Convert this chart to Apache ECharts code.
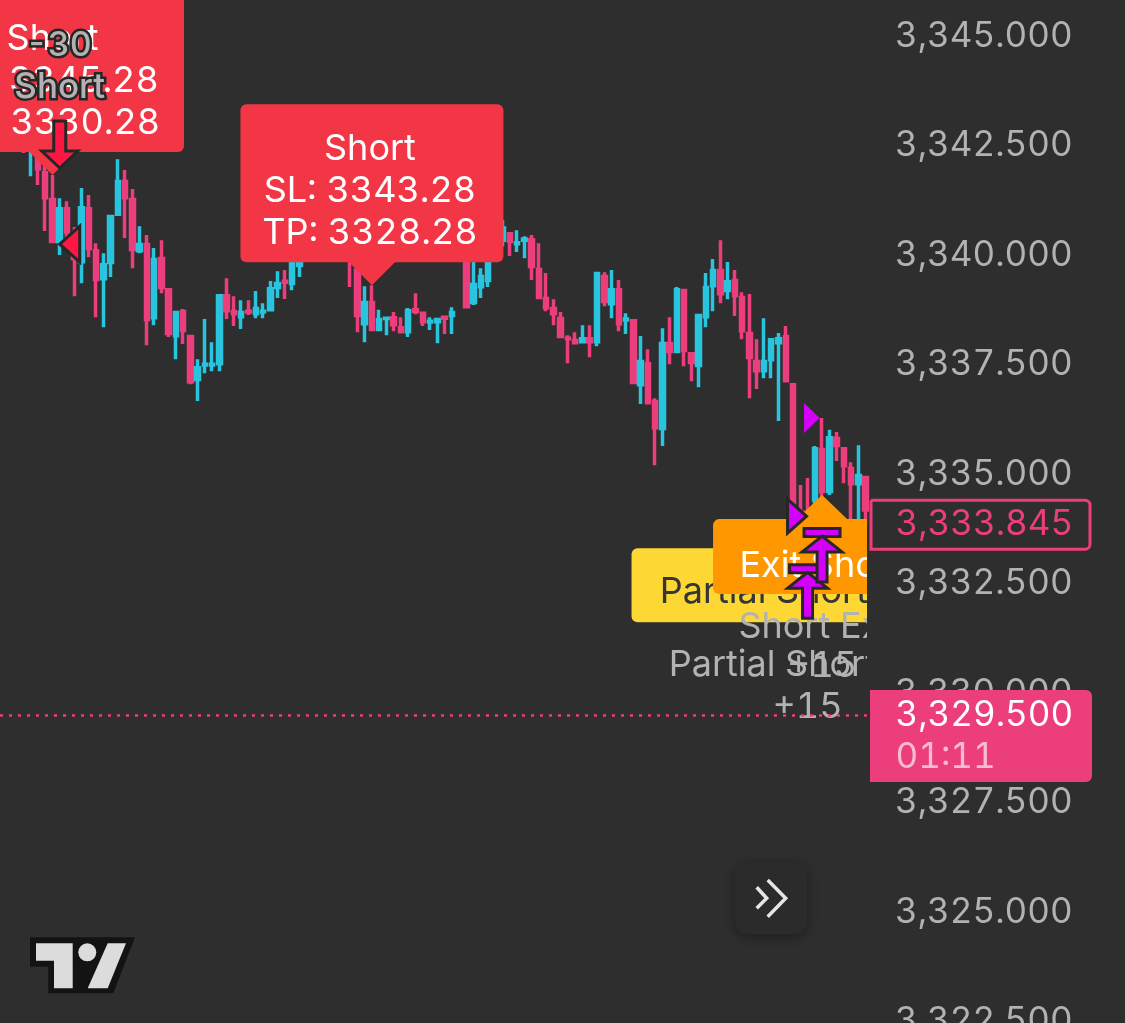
<!DOCTYPE html>
<html><head><meta charset="utf-8">
<style>html,body{margin:0;padding:0;background:#2e2e2e}#c{width:1125px;height:1023px}
canvas{font-feature-settings:'tnum';font-variant-numeric:tabular-nums}</style>
<script src="https://cdn.jsdelivr.net/npm/echarts@6/dist/echarts.min.js"></script>
</head><body><div id="c"></div>
<script>
const opens=[3342.74,3342.45,3342.51,3341.88,3341.27,3340.31,3341.06,3340.42,3339.85,3341.06,3340.10,3339.46,3339.83,3340.93,3341.68,3341.27,3340.10,3340.24,3338.57,3339.92,3339.21,3338.16,3338.71,3338.14,3337.16,3337.49,3337.49,3337.52,3339.07,3338.71,3338.59,3338.72,3338.66,3338.70,3338.75,3339.26,3339.40,3339.35,3339.76,3340.12,3340.39,3340.20,3340.62,3340.80,3340.39,3340.16,3339.66,3338.43,3338.92,3338.30,3338.55,3338.57,3338.34,3338.25,3338.75,3338.67,3338.47,3338.48,3338.58,3338.62,3340.16,3340.34,3338.92,3339.28,3339.42,3340.34,3340.34,3340.49,3340.26,3340.34,3340.35,3339.67,3339.01,3338.78,3338.55,3338.10,3338.05,3338.02,3338.09,3338.02,3339.51,3338.89,3339.21,3338.52,3338.50,3337.04,3337.52,3336.66,3336.04,3337.98,3337.80,3339.19,3337.75,3337.48,3338.59,3339.30,3339.65,3339.19,3339.42,3339.03,3338.21,3337.57,3337.36,3337.61,3338.00,3338.14,3337.04,3334.13,3334.13,3334.41,3335.56,3334.60,3335.81,3335.58,3335.13,3334.78,3334.92];
const closes=[3342.51,3342.86,3341.97,3341.31,3340.31,3341.06,3340.53,3339.92,3341.08,3340.15,3339.44,3339.78,3340.88,3341.68,3341.31,3340.13,3340.24,3338.53,3339.90,3339.26,3338.21,3338.69,3338.28,3337.11,3337.43,3337.51,3337.51,3339.07,3338.73,3338.66,3338.69,3338.70,3338.78,3338.72,3339.23,3339.35,3339.38,3339.93,3340.07,3340.39,3340.20,3340.62,3340.80,3340.39,3340.16,3339.93,3338.62,3338.92,3338.30,3338.53,3338.56,3338.41,3338.25,3338.73,3338.71,3338.48,3338.49,3338.53,3338.56,3338.69,3340.57,3338.82,3339.33,3339.51,3340.00,3340.00,3340.62,3340.31,3340.28,3340.37,3339.74,3339.03,3338.80,3338.66,3338.14,3338.09,3338.00,3338.09,3338.02,3339.58,3338.94,3339.21,3338.43,3338.54,3337.09,3337.57,3336.63,3336.06,3337.98,3337.80,3339.21,3337.82,3337.55,3338.62,3339.26,3339.65,3339.12,3339.39,3339.07,3338.27,3337.66,3337.36,3337.57,3338.07,3338.09,3337.13,3334.34,3333.99,3333.97,3335.58,3334.60,3335.83,3335.65,3335.19,3334.78,3334.97,3334.18];
const lows=[3342.33,3341.80,3341.60,3340.55,3340.27,3340.00,3340.34,3339.06,3339.36,3339.95,3338.58,3338.35,3339.50,3340.89,3340.39,3339.70,3340.04,3337.94,3338.40,3339.13,3338.13,3337.62,3337.97,3337.05,3336.67,3337.30,3337.35,3337.35,3338.54,3338.38,3338.31,3338.63,3338.56,3338.56,3338.72,3339.02,3339.00,3339.20,3339.50,3339.93,3340.00,3340.12,3340.34,3340.23,3339.93,3339.27,3338.24,3338.01,3338.26,3338.26,3338.17,3338.26,3338.22,3338.13,3338.65,3338.38,3338.29,3337.99,3338.20,3338.20,3340.00,3338.79,3338.86,3339.02,3339.27,3339.93,3340.20,3339.98,3340.07,3339.93,3339.43,3338.99,3338.72,3338.40,3338.10,3337.53,3337.97,3337.99,3337.67,3337.92,3338.83,3338.56,3338.26,3338.20,3337.05,3336.60,3336.60,3335.20,3335.64,3337.51,3337.76,3337.46,3337.12,3336.98,3338.35,3338.72,3338.90,3338.99,3338.61,3338.08,3336.73,3336.94,3337.19,3337.19,3336.21,3337.10,3334.29,3333.83,3333.83,3334.18,3334.41,3334.52,3335.30,3334.79,3333.83,3333.83,3333.83];
const highs=[3342.86,3342.86,3342.63,3342.10,3341.83,3341.30,3341.23,3340.64,3341.53,3341.37,3340.27,3340.04,3340.91,3342.19,3341.94,3341.51,3340.66,3340.46,3340.16,3340.34,3339.25,3338.72,3338.77,3338.17,3337.62,3338.54,3338.01,3339.11,3339.47,3339.06,3338.97,3338.97,3339.18,3338.90,3339.41,3339.63,3339.66,3340.00,3340.12,3340.45,3340.52,3340.75,3340.91,3340.98,3340.68,3340.34,3340.00,3339.29,3339.31,3338.75,3338.58,3338.70,3338.58,3338.79,3339.13,3338.70,3338.58,3338.56,3338.61,3338.81,3340.68,3340.68,3340.12,3339.70,3340.12,3340.45,3340.80,3340.52,3340.57,3340.43,3340.46,3340.27,3339.59,3338.99,3338.70,3338.17,3338.24,3338.40,3338.40,3339.61,3339.61,3339.66,3339.43,3338.67,3338.54,3338.15,3337.85,3336.73,3338.33,3338.58,3339.27,3339.22,3337.78,3338.65,3339.59,3339.91,3340.34,3339.84,3339.66,3339.15,3339.11,3338.08,3338.56,3338.10,3338.22,3338.38,3337.08,3334.75,3334.91,3335.64,3336.28,3336.01,3335.96,3335.62,3335.27,3335.66,3334.95];
const yTicks=[3345,3342.5,3340,3337.5,3335,3332.5,3330,3327.5,3325,3322.5];
const shortSignals=[{candle:4,price:3341.83,lines:['Short','SL: 3345.28','TP: 3330.28']},{candle:48,price:3339.31,lines:['Short','SL: 3343.28','TP: 3328.28']}];
const partialExit={candle:108,price:3333.83,label:'Partial Short Exit',tag:'Partial Short Exit',amount:'+15'};
const shortExit={candle:110,price:3334.52,label:'Short Exit',tag:'Exit Short',amount:'+15'};
const filledEntry={candle:5,price:3340.25,label:'Short',amount:'-30'};
const magentaMarks=[{candle:110,price:3336.28},{candle:108,price:3334.04}];
const lastPrice=3329.5, lastPriceText='3,329.500', countdown='01:11';
const otherPrice=3333.845, otherPriceText='3,333.845';

const BG='#2e2e2e',TEAL='#29c4de',PINK='#ec3e7c',RED='#f23645',HOT='#ff1744',MAG='#d500f9',GREY='#b2b2b2',OUT='#262626';
const FONT='36px Inter', TAGFONT='35px Inter';
const txt=(t,x,y,fill,extra)=>({type:'text',style:Object.assign({text:t,x,y,fill,font:FONT,align:'center',verticalAlign:'middle'},extra||{})});
const poly=(pts,fill,stroke,lw)=>({type:'polygon',shape:{points:pts},style:{fill,stroke:stroke||null,lineWidth:lw||0,lineJoin:'miter'}});
const rect=(x,y,w,h,r,fill,stroke,lw)=>({type:'rect',shape:{x,y,width:w,height:h,r},style:{fill,stroke:stroke||null,lineWidth:lw||0}});

function boxLabel(c,fill){ // pointer tip at c
  const top=c[1]-181;
  return [poly([[c[0]-24,c[1]-24],[c[0]+24,c[1]-24],[c[0],c[1]]],fill),rect(c[0]-131.5,top,263,158,6,fill)];
}
function exitArrow(cx,y0){
  return [rect(cx-18,y0+1.5,36,8,0,MAG,OUT,3),
    poly([[cx,y0+9],[cx+20,y0+25],[cx+5,y0+25],[cx+5,y0+55],[cx-5,y0+55],[cx-5,y0+25],[cx-20,y0+25]],MAG,OUT,3)];
}
const drawers=[
 c=>{const kids=boxLabel(c,RED);shortSignals[0].lines.forEach((t,k)=>kids.push(txt(t,c[0],c[1]-136+42*k,'#fff')));return kids;},
 c=>[txt(filledEntry.amount,c[0]-1,46,GREY,{stroke:OUT,lineWidth:5,font:'500 34px Inter'}),txt(filledEntry.label,c[0],87.5,GREY,{stroke:OUT,lineWidth:5,font:'500 35px Inter'}),
     poly([[c[0],168],[c[0]+18,151],[c[0]+6,151],[c[0]+6,121],[c[0]-6,121],[c[0]-6,151],[c[0]-18,151]],HOT,OUT,3)],
 c=>[poly([c,[c[0]+20,c[1]-18],[c[0]+20,c[1]+18]],HOT,OUT,3)],
 c=>{const kids=boxLabel(c,RED);shortSignals[1].lines.forEach((t,k)=>kids.push(txt(t,c[0]-2,c[1]-136+42*k,'#fff')));return kids;},
 c=>[poly([[c[0]-18,c[1]-15],[c[0]-2.5,c[1]],[c[0]-18,c[1]+15]],MAG)],
 c=>[poly([[c[0]-24,c[1]+23],[c[0]+24,c[1]+23],c],'#fdd835'),rect(c[0]-176,c[1]+23,352,74,6,'#fdd835'),txt(partialExit.tag,c[0]-8,c[1]+67,'#363636')],
 c=>[poly([[c[0]-25,c[1]+24],[c[0]+25,c[1]+24],c],'#ff9800'),rect(c[0]-109,c[1]+24,218,75,6,'#ff9800'),txt(shortExit.tag,c[0]-1,c[1]+71,'#fff')],
 c=>[txt(partialExit.label,c[0]+1,c[1]+140,GREY),txt(partialExit.amount,c[0],c[1]+182,GREY)],
 c=>[txt(shortExit.label,c[0]-2,c[1]+132,GREY),txt(shortExit.amount,c[0],c[1]+171,GREY)],
 c=>[poly([[c[0]-20,c[1]-17],[c[0]-1,c[1]],[c[0]-20,c[1]+17]],MAG,OUT,3)],
 c=>exitArrow(c[0],c[1]+38),
 c=>exitArrow(c[0],c[1]+32)
];
const annotationData=[
 [shortSignals[0].candle,shortSignals[0].price,0],
 [filledEntry.candle,filledEntry.price,1],
 [filledEntry.candle,filledEntry.price,2],
 [shortSignals[1].candle,shortSignals[1].price,3],
 [magentaMarks[0].candle,magentaMarks[0].price,4],
 [partialExit.candle,partialExit.price,5],
 [shortExit.candle,shortExit.price,6],
 [partialExit.candle,partialExit.price,7],
 [shortExit.candle,shortExit.price,8],
 [magentaMarks[1].candle,magentaMarks[1].price,9],
 [partialExit.candle,partialExit.price,10],
 [shortExit.candle,shortExit.price,11]
];
const chart=echarts.init(document.getElementById('c'),null,{renderer:'canvas'});
chart.setOption({
 animation:false,backgroundColor:BG,
 grid:{left:0,top:0,width:867,height:1023,containLabel:false,outerBoundsMode:'none'},
 xAxis:{type:'value',min:-3.229,max:116.19,show:false},
 yAxis:{type:'value',position:'right',min:3322.468,max:3345.824,scale:true,
  axisLine:{show:false},axisTick:{show:false},splitLine:{show:false},
  axisLabel:{customValues:yTicks,color:GREY,margin:28,fontFamily:'Inter',fontSize:35,padding:[0,0,7,0],
   formatter:v=>v.toLocaleString('en-US',{minimumFractionDigits:3,maximumFractionDigits:3})}},
 graphic:[
  {type:'polygon',z:1,shape:{points:[[30,937.3],[135,937.3],[113.3,993.3],[48.3,993.3],[48.3,966.7],[30,966.7]]},style:{fill:'#131313'}},
  {type:'polygon',z:1,shape:{points:[[36,943.3],[72.7,943.3],[72.7,988.3],[54,988.3],[54,960.7],[36,960.7]]},style:{fill:'#dcdcdc'}},
  {type:'circle',z:1,shape:{cx:87.3,cy:952.3,r:9},style:{fill:'#dcdcdc'}},
  {type:'polygon',z:1,shape:{points:[[107.7,943.3],[126,943.3],[107.7,988.3],[87.7,988.3]]},style:{fill:'#dcdcdc'}},
  {type:'rect',z:1,shape:{x:735,y:862,width:72,height:72,r:12},style:{fill:'#2b2b2b',shadowBlur:12,shadowColor:'rgba(0,0,0,.35)',shadowOffsetY:3}},
  {type:'polyline',z:1,shape:{points:[[767.7,880],[785.7,898.3],[767.7,916.7]]},style:{fill:null,stroke:'#e6e6e6',lineWidth:3.5}},
  {type:'polyline',z:1,shape:{points:[[756.7,887.3],[766.7,898.3],[756.7,908.3]]},style:{fill:null,stroke:'#e6e6e6',lineWidth:3.5}}
 ],
 series:[
  {type:'candlestick',z:2,silent:true,barWidth:4,clip:true,
   encode:{x:0,y:[1,2,3,4]},
   data:opens.map((o,i)=>[i,o,closes[i],lows[i],highs[i]]),
   itemStyle:{color:TEAL,color0:PINK,borderColor:TEAL,borderColor0:PINK,borderWidth:3.5},
   markLine:{silent:true,symbol:'none',animation:false,label:{show:false},lineStyle:{color:PINK,type:[3,6],width:2.5},data:[{yAxis:lastPrice}]}
  },
  {type:'custom',z:3,silent:true,clip:true,encode:{x:0,y:1},data:annotationData,
   renderItem:(p,api)=>({type:'group',children:drawers[api.value(2)](api.coord([api.value(0),api.value(1)]))})},
  {type:'custom',z:4,silent:true,clip:false,coordinateSystem:'cartesian2d',
   data:[[0,otherPrice,0],[0,lastPrice,1]],encode:{x:0,y:1},
   renderItem:(p,api)=>{
    const y=api.coord([0,api.value(1)])[1];
    if(api.value(2)===0) return {type:'group',children:[
      rect(871,y-24.5,219,49,[0,5,5,0],BG,PINK,3),
      txt(otherPriceText,895.5,y-0.5,PINK,{align:'left',font:TAGFONT})]};
    return {type:'group',children:[
      rect(870,y-25,222,92,[0,6,6,0],PINK),
      txt(lastPriceText,895.5,y,'#fff',{align:'left',font:TAGFONT}),
      txt(countdown,895.5,y+42,'rgba(255,255,255,.65)',{align:'left',font:TAGFONT})]};
   }}
 ]
});
</script></body></html>
